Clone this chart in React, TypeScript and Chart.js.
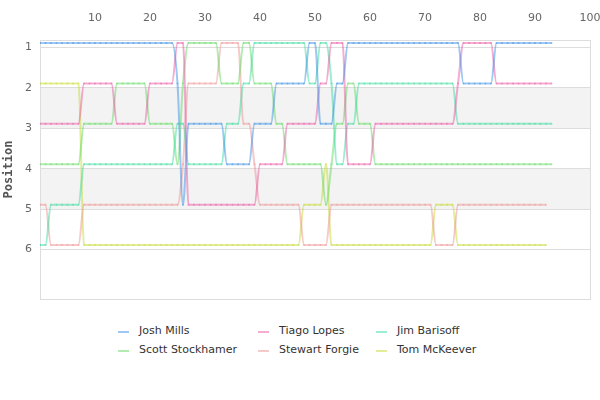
import React, { useEffect, useRef } from "react";
import { Chart, registerables } from "chart.js";

Chart.register(...registerables);

// lap numbers on the x axis
const laps = Array.from({ length: 94 }, (_, i) => i);

const drivers = [
  "Josh Mills",
  "Tiago Lopes",
  "Jim Barisoff",
  "Scott Stockhamer",
  "Stewart Forgie",
  "Tom McKeever",
];

// position per lap
const joshMills = [
  1, 1, 1, 1, 1, 1, 1, 1, 1, 1, 1, 1, 1, 1, 1, 1, 1, 1, 1, 1, 1, 1, 1, 1, 1,
  2, 5, 3, 3, 3, 3, 3, 3, 3, 4, 4, 4, 4, 4, 3, 3, 3, 3, 2, 2, 2, 2, 2, 2,
  1, 1, 3, 3, 3, 2, 2, 1, 1, 1, 1, 1, 1, 1, 1, 1, 1, 1, 1, 1, 1, 1, 1, 1,
  1, 1, 1, 1, 2, 2, 2, 2, 2, 2, 1, 1, 1, 1, 1, 1, 1, 1, 1, 1, 1,
];
const tiagoLopes = [
  3, 3, 3, 3, 3, 3, 3, 3, 2, 2, 2, 2, 2, 2, 3, 3, 3, 3, 3, 3, 2, 2, 2, 2, 2,
  1, 1, 5, 5, 5, 5, 5, 5, 5, 5, 5, 5, 5, 5, 5, 4, 4, 4, 4, 4, 3, 3, 3, 3, 3,
  3, 2, 2, 1, 1, 1, 4, 4, 4, 4, 4, 3, 3, 3, 3, 3, 3, 3, 3, 3, 3, 3, 3, 3, 3,
  3, 2, 1, 1, 1, 1, 1, 1, 2, 2, 2, 2, 2, 2, 2, 2, 2, 2, 2,
];
const jimBarisoff = [
  6, 6, 5, 5, 5, 5, 5, 5, 4, 4, 4, 4, 4, 4, 4, 4, 4, 4, 4, 4, 4, 4, 4, 4, 4,
  3, 3, 4, 4, 4, 4, 4, 4, 4, 3, 3, 3, 2, 2, 1, 1, 1, 1, 1, 1, 1, 1, 1, 1, 2,
  2, 1, 1, 2, 4, 4, 3, 3, 2, 2, 2, 2, 2, 2, 2, 2, 2, 2, 2, 2, 2, 2, 2, 2, 2,
  2, 3, 3, 3, 3, 3, 3, 3, 3, 3, 3, 3, 3, 3, 3, 3, 3, 3, 3,
];
const scottStockhamer = [
  4, 4, 4, 4, 4, 4, 4, 4, 3, 3, 3, 3, 3, 3, 2, 2, 2, 2, 2, 2, 3, 3, 3, 3, 3,
  4, 2, 1, 1, 1, 1, 1, 1, 2, 2, 2, 2, 1, 1, 2, 2, 2, 2, 3, 3, 4, 4, 4, 4, 4,
  4, 4, 5, 4, 3, 3, 2, 2, 3, 3, 3, 4, 4, 4, 4, 4, 4, 4, 4, 4, 4, 4, 4, 4, 4,
  4, 4, 4, 4, 4, 4, 4, 4, 4, 4, 4, 4, 4, 4, 4, 4, 4, 4, 4,
];
const stewartForgie = [
  5, 5, 6, 6, 6, 6, 6, 6, 5, 5, 5, 5, 5, 5, 5, 5, 5, 5, 5, 5, 5, 5, 5, 5, 5,
  5, 4, 2, 2, 2, 2, 2, 2, 1, 1, 1, 1, 3, 3, 4, 5, 5, 5, 5, 5, 5, 5, 5, 6, 6,
  6, 6, 6, 5, 5, 5, 5, 5, 5, 5, 5, 5, 5, 5, 5, 5, 5, 5, 5, 5, 5, 5, 6, 6, 6,
  6, 5, 5, 5, 5, 5, 5, 5, 5, 5, 5, 5, 5, 5, 5, 5, 5, 5,
];
const tomMcKeever = [
  2, 2, 2, 2, 2, 2, 2, 2, 6, 6, 6, 6, 6, 6, 6, 6, 6, 6, 6, 6, 6, 6, 6, 6, 6,
  6, 6, 6, 6, 6, 6, 6, 6, 6, 6, 6, 6, 6, 6, 6, 6, 6, 6, 6, 6, 6, 6, 6, 5, 5,
  5, 5, 4, 6, 6, 6, 6, 6, 6, 6, 6, 6, 6, 6, 6, 6, 6, 6, 6, 6, 6, 6, 5, 5, 5,
  5, 6, 6, 6, 6, 6, 6, 6, 6, 6, 6, 6, 6, 6, 6, 6, 6, 6,
];

const series = [joshMills, tiagoLopes, jimBarisoff, scottStockhamer, stewartForgie, tomMcKeever];

const colors = [
  "rgba(60, 145, 230, 0.5)",
  "rgba(235, 90, 165, 0.5)",
  "rgba(60, 220, 160, 0.5)",
  "rgba(100, 220, 100, 0.5)",
  "rgba(240, 150, 150, 0.5)",
  "rgba(200, 220, 50, 0.5)",
];

const positionTicks = [1, 2, 3, 4, 5, 6];
const shadedRows = [
  [2, 3],
  [4, 5],
];
// grid lines sit a little below the lines in the original
const gridShift = 0.11;

const legendOrder = [0, 1, 2, 3, 4, 5];

const chartFrame = {
  id: "chartFrame",
  beforeDraw(chart: any) {
    const { ctx, chartArea, scales } = chart;
    const y = scales.y;
    ctx.save();
    ctx.fillStyle = "#f3f3f3";
    shadedRows.forEach(([a, b]) => {
      const top = y.getPixelForValue(a + gridShift);
      const bottom = y.getPixelForValue(b + gridShift);
      ctx.fillRect(chartArea.left, top, chartArea.right - chartArea.left, bottom - top);
    });
    ctx.restore();
  },
  beforeDatasetsDraw(chart: any) {
    const { ctx, chartArea } = chart;
    ctx.save();
    ctx.strokeStyle = "#dddddd";
    ctx.lineWidth = 1;
    ctx.strokeRect(
      chartArea.left + 0.5,
      chartArea.top + 0.5,
      chartArea.right - chartArea.left,
      chartArea.bottom - chartArea.top
    );
    ctx.restore();
  },
};

const PositionChart = () => {
  const chartRef = useRef<HTMLCanvasElement | null>(null);
  const chartInstanceRef = useRef<any>(null);

  useEffect(() => {
    document.body.style.margin = "0";
    const ctx = chartRef.current!.getContext("2d")!;

    if (chartInstanceRef.current) {
      chartInstanceRef.current.destroy();
    }

    chartInstanceRef.current = new Chart(ctx, {
      type: "line",
      data: {
        labels: laps,
        datasets: drivers.map((name, i) => ({
          label: name,
          data: series[i],
          borderColor: colors[i],
          backgroundColor: colors[i],
          borderWidth: 2,
          pointRadius: 1,
          pointBorderWidth: 0,
          pointHoverRadius: 0,
          cubicInterpolationMode: "monotone" as const,
          fill: false,
        })),
      },
      options: {
        animation: false,
        responsive: true,
        maintainAspectRatio: false,
        layout: { padding: { top: 0, left: 0, right: 10, bottom: 6 } },
        font: { family: "DejaVu Sans" },
        plugins: {
          legend: { display: false },
          tooltip: { enabled: false },
        },
        scales: {
          x: {
            type: "linear",
            position: "top",
            min: 0,
            max: 100,
            afterFit: (scale: any) => {
              scale.height = 40;
              scale.paddingLeft = 0;
              scale.paddingRight = 0;
            },
            grid: { display: false, drawTicks: false },
            border: { display: false },
            ticks: {
              stepSize: 10,
              padding: 15,
              color: "#666",
              font: { family: "DejaVu Sans", size: 11 },
              callback: (v: any) => (v === 0 ? "" : v),
            },
          },
          y: {
            type: "linear",
            reverse: true,
            min: 0.925,
            max: 7.335,
            afterFit: (scale: any) => {
              scale.width = 40;
              scale.paddingTop = 0;
              scale.paddingBottom = 0;
            },
            afterBuildTicks: (scale: any) => {
              scale.ticks = positionTicks.map((p) => ({ value: p + gridShift }));
            },
            grid: { color: "#dddddd", drawTicks: false },
            border: { display: false },
            ticks: {
              padding: 8,
              color: "#666",
              font: { family: "DejaVu Sans", size: 11 },
              callback: (v: any) => Math.round(v),
            },
            title: {
              display: true,
              text: "Position",
              color: "#555",
              padding: { top: 2, bottom: 0 },
              font: { family: "DejaVu Sans Mono", size: 12, weight: "bold" },
            },
          },
        },
      },
      plugins: [chartFrame],
    } as any);

    return () => {
      if (chartInstanceRef.current) {
        chartInstanceRef.current.destroy();
        chartInstanceRef.current = null;
      }
    };
  }, []);

  return (
    <div style={{ width: 600 }}>
      <div style={{ position: "relative", width: 600, height: 305 }}>
        <canvas ref={chartRef} />
      </div>
      <div
        style={{
          display: "grid",
          gridTemplateColumns: "140px 118px auto",
          marginTop: 16,
          marginLeft: 118,
          fontFamily: "DejaVu Sans",
          fontSize: 11,
          lineHeight: "19px",
          color: "#333",
        }}
      >
        {legendOrder.map((i) => (
          <div key={drivers[i]} style={{ display: "flex", alignItems: "center", whiteSpace: "nowrap" }}>
            <span
              style={{
                display: "inline-block",
                width: 11,
                height: 2,
                marginTop: 3,
                marginRight: 10,
                background: colors[i],
              }}
            />
            <span>{drivers[i]}</span>
          </div>
        ))}
      </div>
    </div>
  );
};

export default function App() {
  return <PositionChart />;
}
